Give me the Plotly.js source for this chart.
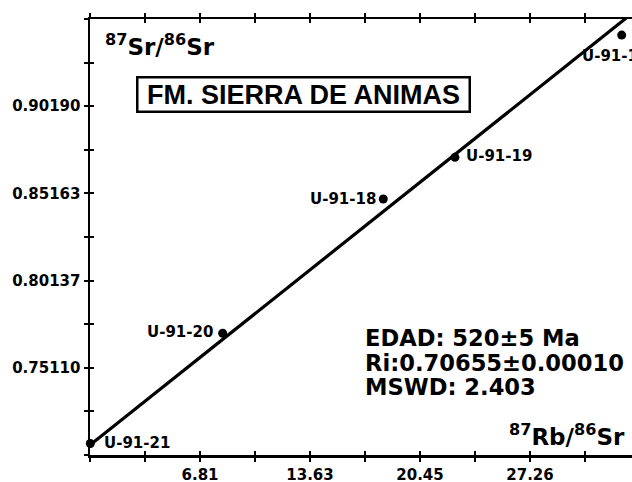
<!DOCTYPE html>
<html>
<head>
<meta charset="utf-8">
<script src="https://cdn.plot.ly/plotly-3.0.1.min.js"></script>
<style>
  html, body { margin: 0; padding: 0; background: #fff; overflow: hidden; }
  #chart { width: 632px; height: 482px; }
</style>
</head>
<body>
<div id="chart"></div>
<script>
// ---- data ----
const sampleIds = ['U-91-21', 'U-91-20', 'U-91-18', 'U-91-19', 'U-91-17'];
const rbSr = [0.02, 8.22, 18.17, 22.61, 32.94];          // 87Rb/86Sr
const srSr = [0.7075, 0.7710, 0.8484, 0.8724, 0.9429];   // 87Sr/86Sr

// isochron parameters (Ri and slope of the fitted line)
const isochronRi = 0.70655;
const isochronSlope = 0.00741;
const fitX = [0, 34.07];

// tick labels
const xTickVals = [0, 3.4075, 6.815, 10.2225, 13.63, 17.0375, 20.445, 23.8525, 27.26, 30.6675, 34.075];
const xTickText = ['', '', '6.81', '', '13.63', '', '20.45', '', '27.26', '', ''];
const yTickVals = [0.70084, 0.72597, 0.75110, 0.77623, 0.80137, 0.82650, 0.85163, 0.87676, 0.90190, 0.92703, 0.95216];
const yTickText = ['', '', '0.75110', '', '0.80137', '', '0.85163', '', '0.90190', '', ''];

// text blocks
const chartTitle = 'FM. SIERRA DE ANIMAS';
const yLabel = '<sup>87</sup>Sr/<sup>86</sup>Sr';
const xLabel = '<sup>87</sup>Rb/<sup>86</sup>Sr';
const statsLines = ['EDAD: 520±5 Ma', 'Ri:0.70655±0.00010', 'MSWD: 2.403'];

// ---- build ----
const fitY = fitX.map(x => isochronRi + isochronSlope * x);
const xRange = [0, 33.58];
const yRange = [0.70084, 0.95216];

const tickFont = { family: 'DejaVu Sans', size: 15, color: '#000', weight: 'bold' };

const traces = [
  {
    x: fitX, y: fitY, xaxis: 'x', yaxis: 'y',
    mode: 'lines', line: { color: '#000', width: 3.2 },
    hoverinfo: 'skip', showlegend: false
  },
  {
    x: rbSr, y: srSr, xaxis: 'x', yaxis: 'y',
    mode: 'markers', marker: { color: '#000', size: 9 },
    cliponaxis: false, showlegend: false
  },
  {
    // same points on the twin axes, invisible: they only carry the inner half of the cross ticks
    x: rbSr, y: srSr, xaxis: 'x2', yaxis: 'y2',
    mode: 'markers', marker: { color: 'rgba(0,0,0,0)', size: 1 },
    hoverinfo: 'skip', showlegend: false
  }
];

const labelPos = {
  'U-91-21': { xanchor: 'left', xshift: 12, yshift: 0 },
  'U-91-20': { xanchor: 'right', xshift: -8, yshift: 1 },
  'U-91-18': { xanchor: 'right', xshift: -5, yshift: 0 },
  'U-91-19': { xanchor: 'left', xshift: 9, yshift: 1 },
  'U-91-17': { xanchor: 'left', xshift: -42, yshift: -21 }
};

const annotations = sampleIds.map((id, i) => Object.assign({
  x: rbSr[i], y: srSr[i], xref: 'x', yref: 'y',
  text: id, showarrow: false, yanchor: 'middle',
  font: { family: 'DejaVu Sans', size: 15, color: '#000', weight: 'bold' }
}, labelPos[id]));

annotations.push({
  xref: 'paper', yref: 'paper', x: 0.393, y: 0.826,
  xanchor: 'center', yanchor: 'middle', showarrow: false,
  text: chartTitle, bgcolor: '#fff', bordercolor: '#000', borderwidth: 2.5,
  borderpad: 1, width: 328,
  font: { family: 'Liberation Sans', size: 27, color: '#000', weight: 'bold' }
});
annotations.push({
  xref: 'paper', yref: 'paper', x: 0.024, y: 0.94,
  xanchor: 'left', yanchor: 'middle', showarrow: false, text: yLabel,
  font: { family: 'DejaVu Sans', size: 23, color: '#000', weight: 'bold' }
});
annotations.push({
  xref: 'paper', yref: 'paper', x: 0.991, y: 0.047,
  xanchor: 'right', yanchor: 'middle', showarrow: false, text: xLabel,
  font: { family: 'DejaVu Sans', size: 23, color: '#000', weight: 'bold' }
});
const statsY = [0.268, 0.211, 0.156];
statsLines.forEach((t, i) => annotations.push({
  xref: 'paper', yref: 'paper', x: 0.503, y: statsY[i],
  xanchor: 'left', yanchor: 'middle', showarrow: false, text: t,
  font: { family: 'DejaVu Sans', size: 22.6, color: '#000', weight: 'bold' }
}));

const baseX = {
  range: xRange, autorange: false, tickmode: 'array', tickvals: xTickVals,
  ticklen: 4, tickwidth: 2, tickcolor: '#000',
  showgrid: false, zeroline: false, fixedrange: true
};
const baseY = {
  range: yRange, autorange: false, tickmode: 'array', tickvals: yTickVals,
  ticklen: 4, tickwidth: 2, tickcolor: '#000',
  showgrid: false, zeroline: false, fixedrange: true
};

const layout = {
  width: 632, height: 482,
  margin: { l: 90, r: 0, t: 19, b: 27 },
  paper_bgcolor: '#fff', plot_bgcolor: '#fff',
  showlegend: false,
  xaxis: Object.assign({}, baseX, {
    ticks: 'outside', mirror: 'ticks', showline: true, linecolor: '#000', linewidth: 2.5,
    ticktext: xTickText, tickfont: tickFont
  }),
  yaxis: Object.assign({}, baseY, {
    ticks: 'outside', mirror: false, showline: true, linecolor: '#000', linewidth: 2.5,
    ticktext: yTickText, tickfont: tickFont
  }),
  xaxis2: Object.assign({}, baseX, {
    overlaying: 'x', matches: 'x', anchor: 'y2', side: 'bottom', ticks: 'inside', mirror: 'ticks',
    showline: false, showticklabels: false
  }),
  yaxis2: Object.assign({}, baseY, {
    overlaying: 'y', matches: 'y', anchor: 'x2', side: 'left', ticks: 'inside', mirror: false,
    showline: false, showticklabels: false
  }),
  annotations: annotations
};

Plotly.newPlot('chart', traces, layout, { displayModeBar: false, staticPlot: true });
</script>
</body>
</html>
